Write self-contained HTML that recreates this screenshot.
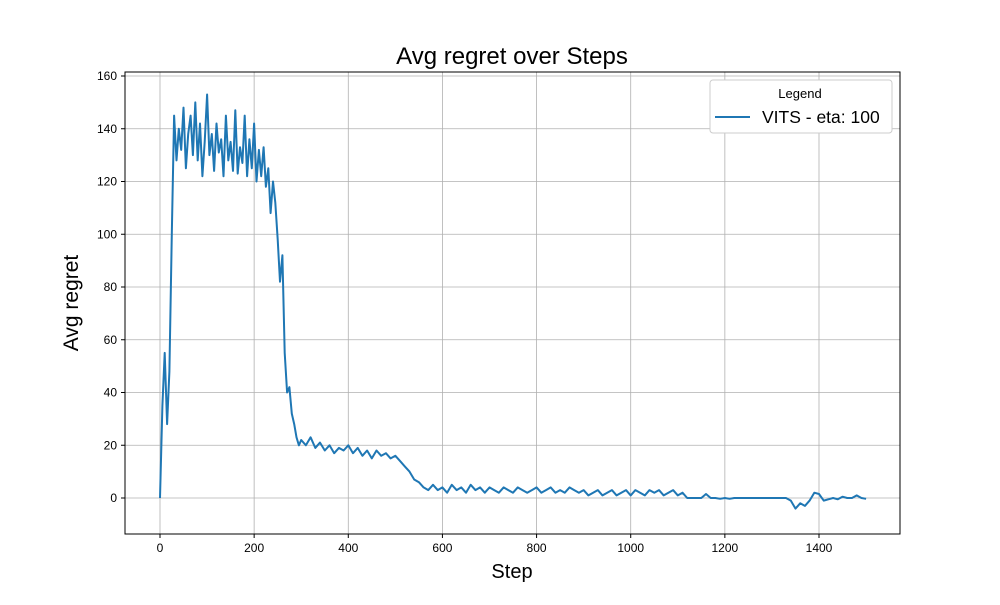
<!DOCTYPE html>
<html><head><meta charset="utf-8"><style>
body{margin:0;background:#fff;font-family:"Liberation Sans","DejaVu Sans",sans-serif;}
svg text{font-family:"Liberation Sans","DejaVu Sans",sans-serif;}
</style></head><body>
<svg id="chart" width="1000" height="600" viewBox="0 0 1000 600" xmlns="http://www.w3.org/2000/svg">
<rect width="1000" height="600" fill="#fff"/>
<g id="grid"></g>
<g id="series"></g>
<rect x="125" y="72" width="775" height="462" fill="none" stroke="#000" stroke-width="1"/>
<g id="ticks"></g>
<text x="512" y="64" text-anchor="middle" font-size="24">Avg regret over Steps</text>
<text x="512" y="578" text-anchor="middle" font-size="20">Step</text>
<text transform="translate(78,303) rotate(-90)" text-anchor="middle" font-size="21">Avg regret</text>
<g>
<rect x="710" y="80" width="182" height="53" rx="3" fill="#fff" stroke="#ccc"/>
<text x="800" y="98" text-anchor="middle" font-size="13">Legend</text>
<line x1="715" y1="117" x2="750" y2="117" stroke="#1f77b4" stroke-width="2"/>
<text x="762" y="123" font-size="17.5">VITS - eta: 100</text>
</g>
</svg>
<script>
const xTicks=[0,200,400,600,800,1000,1200,1400];
const yTicks=[0,20,40,60,80,100,120,140,160];
const steps=[0,5,10,15,20,25,30,35,40,45,50,55,60,65,70,75,80,85,90,95,100,105,110,115,120,125,130,135,140,145,150,155,160,165,170,175,180,185,190,195,200,205,210,215,220,225,230,235,240,245,250,255,260,265,270,275,280,285,290,295,300,
310,320,330,340,350,360,370,380,390,400,410,420,430,440,450,460,470,480,490,500,510,520,530,540,550,560,570,580,590,600,610,620,630,640,650,660,670,680,690,700,710,720,730,740,750,760,770,780,790,800,810,820,830,840,850,860,870,880,890,900,910,920,930,940,950,960,970,980,990,1000,1010,1020,1030,1040,1050,1060,1070,1080,1090,1100,1110,1120,1130,1140,1150,1160,1170,1180,1190,1200,1210,1220,1230,1240,1250,1260,1270,1280,1290,1300,1310,1320,1330,1340,1350,1360,1370,1380,1390,1400,1410,1420,1430,1440,1450,1460,1470,1480,1490,1500];
const regret=[0,35,55,28,48,100,145,128,140,132,148,125,138,145,130,150,128,142,122,135,153,130,138,124,142,131,136,122,145,128,135,124,147,123,133,127,145,122,136,125,142,120,132,122,133,118,125,108,120,112,98,82,92,55,40,42,32,28,23,20,22,
20,23,19,21,18,20,17,19,18,20,17,19,16,18,15,18,16,17,15,16,14,12,10,7,6,4,3,5,3,4,2,5,3,4,2,5,3,4,2,4,3,2,4,3,2,4,3,2,3,4,2,3,4,2,3,2,4,3,2,3,1,2,3,1,2,3,1,2,3,1,3,2,1,3,2,3,1,2,3,1,2,0,0,0,0,1.5,0,0,-0.3,0,-0.3,0,0,0,0,0,0,0,0,0,0,0,0,-1,-4,-2,-3,-1,2,1.5,-1,-0.5,0,-0.5,0.5,0,0,1,0,-0.3];
const X=v=>160+v*(819-160)/1400;
const Y=v=>498-v*(498-76)/160;
const NS="http://www.w3.org/2000/svg";
const grid=document.getElementById('grid'),ticks=document.getElementById('ticks');
function mk(tag,attrs,parent){const e=document.createElementNS(NS,tag);for(const k in attrs)e.setAttribute(k,attrs[k]);parent.appendChild(e);return e;}
xTicks.forEach(t=>{const x=X(t);
const g=mk('line',{x1:x,x2:x,y1:72,y2:534,stroke:'#b0b0b0','stroke-width':0.8},grid);


mk('line',{x1:x,x2:x,y1:534,y2:538,stroke:'#000'},ticks);
const tx=mk('text',{x:x,y:552,'text-anchor':'middle','font-size':12},ticks);tx.textContent=t;

});
yTicks.forEach(t=>{const y=Y(t);
const g=mk('line',{x1:125,x2:900,y1:y,y2:y,stroke:'#b0b0b0','stroke-width':0.8},grid);


mk('line',{x1:121,x2:125,y1:y,y2:y,stroke:'#000'},ticks);
const tx=mk('text',{x:117,y:y+4,'text-anchor':'end','font-size':12},ticks);tx.textContent=t;

});
const d=steps.map((s,i)=>(i?'L':'M')+X(s).toFixed(1)+' '+Y(regret[i]).toFixed(1)).join(' ');
const p=mk('path',{d:d,fill:'none',stroke:'#1f77b4','stroke-width':2,'stroke-linejoin':'round'},document.getElementById('series'));


</script>
</body></html>
